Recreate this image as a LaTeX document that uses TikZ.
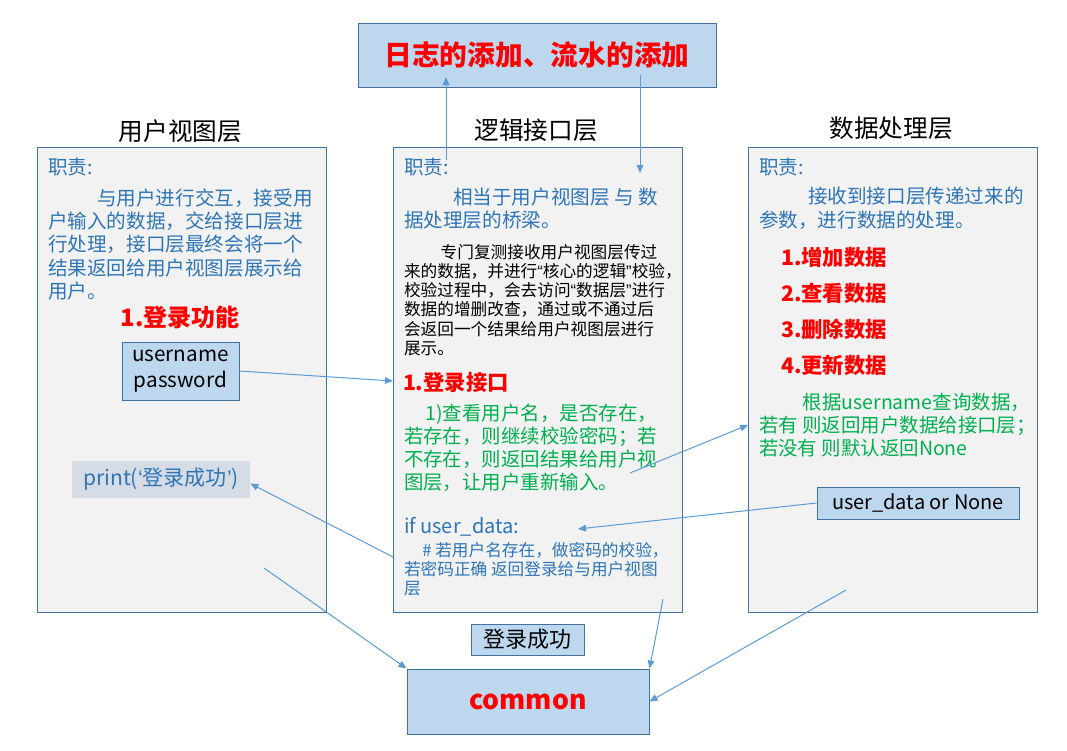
\documentclass[tikz,border=0pt]{standalone}
\usepackage{fontspec}
\setmainfont{Noto Sans CJK SC}
\newfontfamily\quotefont{Liberation Sans}
\newcommand{\oneopen}{{\quotefont ‘}}
\newcommand{\oneclose}{{\quotefont ’}}
\newcommand{\twoopen}{{\quotefont “}}
\newcommand{\twoclose}{{\quotefont ”}}
\usetikzlibrary{positioning,arrows.meta}
\definecolor{colorpanel}  {RGB}{242,242,242}
\definecolor{colorborder} {RGB}{65 ,113,156}
\definecolor{colorbox}    {RGB}{189,215,238}
\definecolor{colorprint}  {RGB}{214,220,229}
\definecolor{colorblue}   {RGB}{46 ,117,182}
\definecolor{colorgreen}  {RGB}{0  ,176,80 }
\definecolor{colorarrow}  {RGB}{91 ,155,213}

\begin{document}
\begin{tikzpicture}[
    x=0.75pt, y=-0.75pt,
    base/.style={inner sep=0pt,outer sep=0pt,align=left,anchor=west},
    panel/.style={draw=colorborder,fill=colorpanel,line width=0.75pt,minimum width=216.75pt,minimum height=348.75pt,anchor=north west},
    box/.style={draw=colorborder,fill=colorbox,line width=0.75pt,inner sep=0pt,align=center},
    title/.style={inner sep=0pt,font={\fontsize{18.5}{22}\selectfont}},
    duty/.style={base,text=colorblue,font={\fontsize{14.7}{17.6}\selectfont}},
    note/.style={base,font={\fontsize{12.5}{14.4}\selectfont}},
    greentxt/.style={base,text=colorgreen,font={\fontsize{14.6}{17.3}\selectfont}},
    redtxt/.style={base,text=red,font={\bfseries\fontsize{16}{27}\selectfont}},
    link/.style={-{Triangle[width=5pt,length=6pt]},draw=colorarrow,line width=0.75pt},
]
    \useasboundingbox (0,0) rectangle (1067,750);

    % Panels
    \node[panel] (userpanel)  at (37,147)  {};
    \node[panel] (logicpanel) at (393,147) {};
    \node[panel] (datapanel)  at (748,147) {};

    % Titles
    \node[title] (usertitle)  at (180.5,131) {用户视图层};
    \node[title] (logictitle) at (536,130)   {逻辑接口层};
    \node[title] (datatitle)  at (891,128)   {数据处理层};
    \node[box,minimum width=268.5pt,minimum height=48pt,text=red,font={\bfseries\fontsize{20.8}{24}\selectfont}] (logbox) at (537,55) {日志的添加、流水的添加};

    % User view text
    \node[duty] (userduty) at (48,167) {职责:};
    \node[duty] (userbody) at (48,244.5) {\hspace*{2.5em}与用户进行交互，接受用\\户输入的数据，交给接口层进\\行处理，接口层最终会将一个\\结果返回给用户视图层展示给\\用户。};
    \node[redtxt,anchor=center,font={\bfseries\fontsize{18}{22}\selectfont}] (userlogin) at (180,317) {1.登录功能};
    \node[box,minimum width=87.75pt,minimum height=43.5pt,font={\fontsize{15.5}{19.5}\selectfont}] (username) at (180.5,371) {username\\password};
    \node[fill=colorprint,inner sep=0pt,minimum width=133.5pt,minimum height=27.75pt,text=colorblue,font={\fontsize{15.8}{18}\selectfont}] (printbox) at (161,479.5) {print(\oneopen 登录成功\oneclose)};

    % Logic text
    \node[duty] (logicduty) at (404,167) {职责:};
    \node[duty] (logicbody) at (404,208.5) {\hspace*{2.5em}相当于用户视图层 与 数\\据处理层的桥梁。};
    \node[note] (logicnote) at (404,300) {\hspace*{2.2em}专门复测接收用户视图层传过\\来的数据，并进行\twoopen 核心的逻辑\twoclose 校验，\\校验过程中，会去访问\twoopen 数据层\twoclose 进行\\数据的增删改查，通过或不通过后\\会返回一个结果给用户视图层进行\\展示。};
    \node[redtxt] (logiclogin) at (403,382) {1.登录接口};
    \node[greentxt] (checktxt) at (404,447.5) {\hspace*{1.1em}1)查看用户名，是否存在，\\若存在，则继续校验密码；若\\不存在，则返回结果给用户视\\图层，让用户重新输入。};
    \node[base,text=colorblue,font={\fontsize{15}{18}\selectfont}] (iftxt) at (404,527) {if user\_data:};
    \node[base,text=colorblue,font={\fontsize{12.5}{14.25}\selectfont}] (hashtxt) at (404,569) {\hspace*{1.1em}\# 若用户名存在，做密码的校验，\\若密码正确 返回登录给与用户视图\\层};

    % Data text
    \node[duty] (dataduty) at (759,167) {职责:};
    \node[duty] (databody) at (759,208.5) {\hspace*{2.5em}接收到接口层传递过来的\\参数，进行数据的处理。};
    \node[redtxt] (dataops) at (781,311) {1.增加数据\\2.查看数据\\3.删除数据\\4.更新数据};
    \node[greentxt] (datanote) at (759,425) {\hspace*{2.25em}根据username查询数据，\\若有 则返回用户数据给接口层；\\若没有 则默认返回None};
    \node[box,minimum width=151.5pt,minimum height=24pt,font={\fontsize{15}{18}\selectfont}] (userdata) at (918,503) {user\_data or None};

    % Bottom
    \node[box,minimum width=84.75pt,minimum height=23.25pt,font={\fontsize{16.5}{20}\selectfont}] (loginok) at (527.5,639.5) {登录成功};
    \node[box,minimum width=181.5pt,minimum height=48.75pt,text=red,font={\bfseries\fontsize{20}{24}\selectfont}] (common) at (528,701.5) {common};

    % Arrow ends
    \coordinate (logfrom)  at (446,160);
    \coordinate (logup)    at (446,77);
    \coordinate (logdown)  at (640,75);
    \coordinate (logto)    at (640,173);
    \coordinate (loginin)  at (393,381);
    \coordinate (checkout) at (630,473);
    \coordinate (datain)   at (748,425);
    \coordinate (ifdata)   at (578,529);
    \coordinate (loginout) at (393,557);
    \coordinate (userout)  at (264,568);
    \coordinate (logicout) at (663,599);
    \coordinate (dataout)  at (846,590);

    % Arrows
    \draw[link] (logfrom) -- (logup);
    \draw[link] (logdown) -- (logto);
    \draw[link] (username.east) -- (loginin);
    \draw[link] (checkout) -- (datain);
    \draw[link] (userdata.west) -- (ifdata);
    \draw[link] (loginout) -- ([yshift=-3pt]printbox.east);
    \draw[link] (userout) -- (common.north west);
    \draw[link] (logicout) -- (common.north east);
    \draw[link] (dataout) -- (common.east);

\end{tikzpicture}
\end{document}
